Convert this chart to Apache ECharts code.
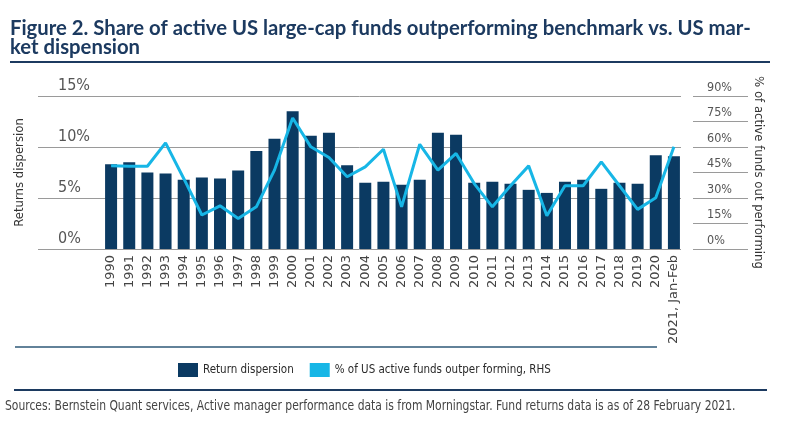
<!DOCTYPE html>
<html>
<head>
<meta charset="utf-8">
<script src="https://cdn.jsdelivr.net/npm/echarts@6/dist/echarts.min.js"></script>
<style>
html,body{margin:0;padding:0;background:#fff;}
#chart{width:800px;height:435px;}
</style>
</head>
<body>
<div id="chart"></div>
<script>
const years = ['1990','1991','1992','1993','1994','1995','1996','1997','1998','1999','2000','2001','2002','2003','2004','2005','2006','2007','2008','2009','2010','2011','2012','2013','2014','2015','2016','2017','2018','2019','2020','2021, Jan-Feb'];
const returnDispersion = [8.3,8.5,7.5,7.4,6.8,7.0,6.9,7.7,9.6,10.8,13.5,11.1,11.4,8.2,6.5,6.6,6.3,6.8,11.4,11.2,6.5,6.6,6.4,5.8,5.5,6.6,6.8,5.9,6.5,6.4,9.2,9.1];
const pctOutperforming = [48.9,48.7,48.7,62.4,41.5,20.0,25.4,18.0,24.8,46.4,77.1,60.1,53.8,42.5,48.3,58.7,24.8,61.6,46.4,56.2,38.5,24.8,37.2,48.9,19.6,37.2,37.2,51.3,37.2,23.3,30.1,60.1];
const leftTicks = {min:0, max:15, interval:5};
const rightTicks = {min:0, max:90, interval:15};
const titleText = 'Figure 2. Share of active US large-cap funds outperforming benchmark vs. US mar-\nket dispension';
const sourceText = 'Sources: Bernstein Quant services, Active manager performance data is from Morningstar. Fund returns data is as of 28 February 2021.';
const seriesNames = ['Return dispersion', '% of US active funds outper forming, RHS'];

const NAVY = '#0b3a62';
const CYAN = '#17b6e6';
const NARROW = "'DejaVu Sans Condensed',sans-serif";

const chart = echarts.init(document.getElementById('chart'), null, {renderer:'canvas'});
const pctFmt = v => v + '%';
chart.setOption({
  animation:false,
  legend:{
    left:173, top:358, itemWidth:20, itemHeight:14, itemGap:16,
    textStyle:{fontFamily:NARROW, fontSize:11.5, color:'#2a2a2a'},
    data:[{name:seriesNames[0], icon:'rect'},{name:seriesNames[1], icon:'rect'}]
  },
  grid:[
    {left:38, right:119, top:96, bottom:186},
    {left:102, right:117, top:96, bottom:186},
    {left:693, right:52, top:96, bottom:186}
  ],
  xAxis:[
    {gridIndex:0, type:'category', data:years, show:false},
    {gridIndex:1, type:'category', data:years,
     axisLine:{show:false}, axisTick:{show:false},
     axisLabel:{rotate:90, interval:0, margin:6, fontFamily:'DejaVu Sans', fontSize:13, color:'#444'}},
    {gridIndex:2, type:'category', data:['a'], show:false}
  ],
  yAxis:[
    {gridIndex:0, type:'value', min:leftTicks.min, max:leftTicks.max, interval:leftTicks.interval,
     name:'Returns dispersion', nameLocation:'middle', nameRotate:90, nameGap:12,
     nameTextStyle:{fontFamily:NARROW, fontSize:13, color:'#333'},
     axisLine:{show:false}, axisTick:{show:false},
     splitLine:{lineStyle:{color:'#9a9a9a', width:1}},
     axisLabel:{inside:true, margin:20, align:'left', verticalAlign:'bottom', padding:[0,0,2,0],
       formatter:pctFmt, fontFamily:NARROW, fontSize:16, color:'#555'}},
    {gridIndex:1, type:'value', min:leftTicks.min, max:leftTicks.max, interval:leftTicks.interval, show:false},
    {gridIndex:1, type:'value', min:rightTicks.min, max:rightTicks.max, interval:rightTicks.interval, show:false},
    {gridIndex:2, type:'value', min:rightTicks.min, max:rightTicks.max, interval:rightTicks.interval,
     axisLine:{show:false}, axisTick:{show:false},
     splitLine:{lineStyle:{color:'#9a9a9a', width:1}},
     axisLabel:{inside:true, margin:14, align:'left', verticalAlign:'bottom', padding:[0,0,2,0],
       formatter:pctFmt, fontFamily:NARROW, fontSize:12.5, color:'#555'}},
    {gridIndex:2, type:'value', position:'right', min:rightTicks.min, max:rightTicks.max,
     name:'% of active funds out performing', nameLocation:'middle', nameRotate:-90, nameGap:4,
     nameTextStyle:{fontFamily:NARROW, fontSize:13, color:'#333'},
     axisLine:{show:false}, axisTick:{show:false}, axisLabel:{show:false}, splitLine:{show:false}}
  ],
  series:[
    {name:seriesNames[0], type:'bar', xAxisIndex:1, yAxisIndex:1, data:returnDispersion,
     barWidth:12, itemStyle:{color:NAVY}},
    {name:seriesNames[1], type:'line', xAxisIndex:1, yAxisIndex:2, data:pctOutperforming,
     color:CYAN, symbol:'none', lineStyle:{color:CYAN, width:3}, itemStyle:{color:CYAN}}
  ],
  graphic:[
    {type:'text', left:10, top:18, style:{text:titleText, fontFamily:'Lato', fontWeight:'bold', fontSize:20.3, lineHeight:19, fill:'#1c3a60'}},
    {type:'line', shape:{x1:10, y1:62, x2:770, y2:62}, style:{stroke:'#1c3a60', lineWidth:2}},
    {type:'line', shape:{x1:15, y1:347, x2:657, y2:347}, style:{stroke:'#2e5877', lineWidth:1.5}},
    {type:'line', shape:{x1:14, y1:390, x2:767, y2:390}, style:{stroke:'#1c3a60', lineWidth:2}},
    {type:'text', x:5, y:399, scaleX:0.855, style:{text:sourceText, fontFamily:NARROW, fontSize:14, fill:'#444'}}
  ]
});
</script>
</body>
</html>
